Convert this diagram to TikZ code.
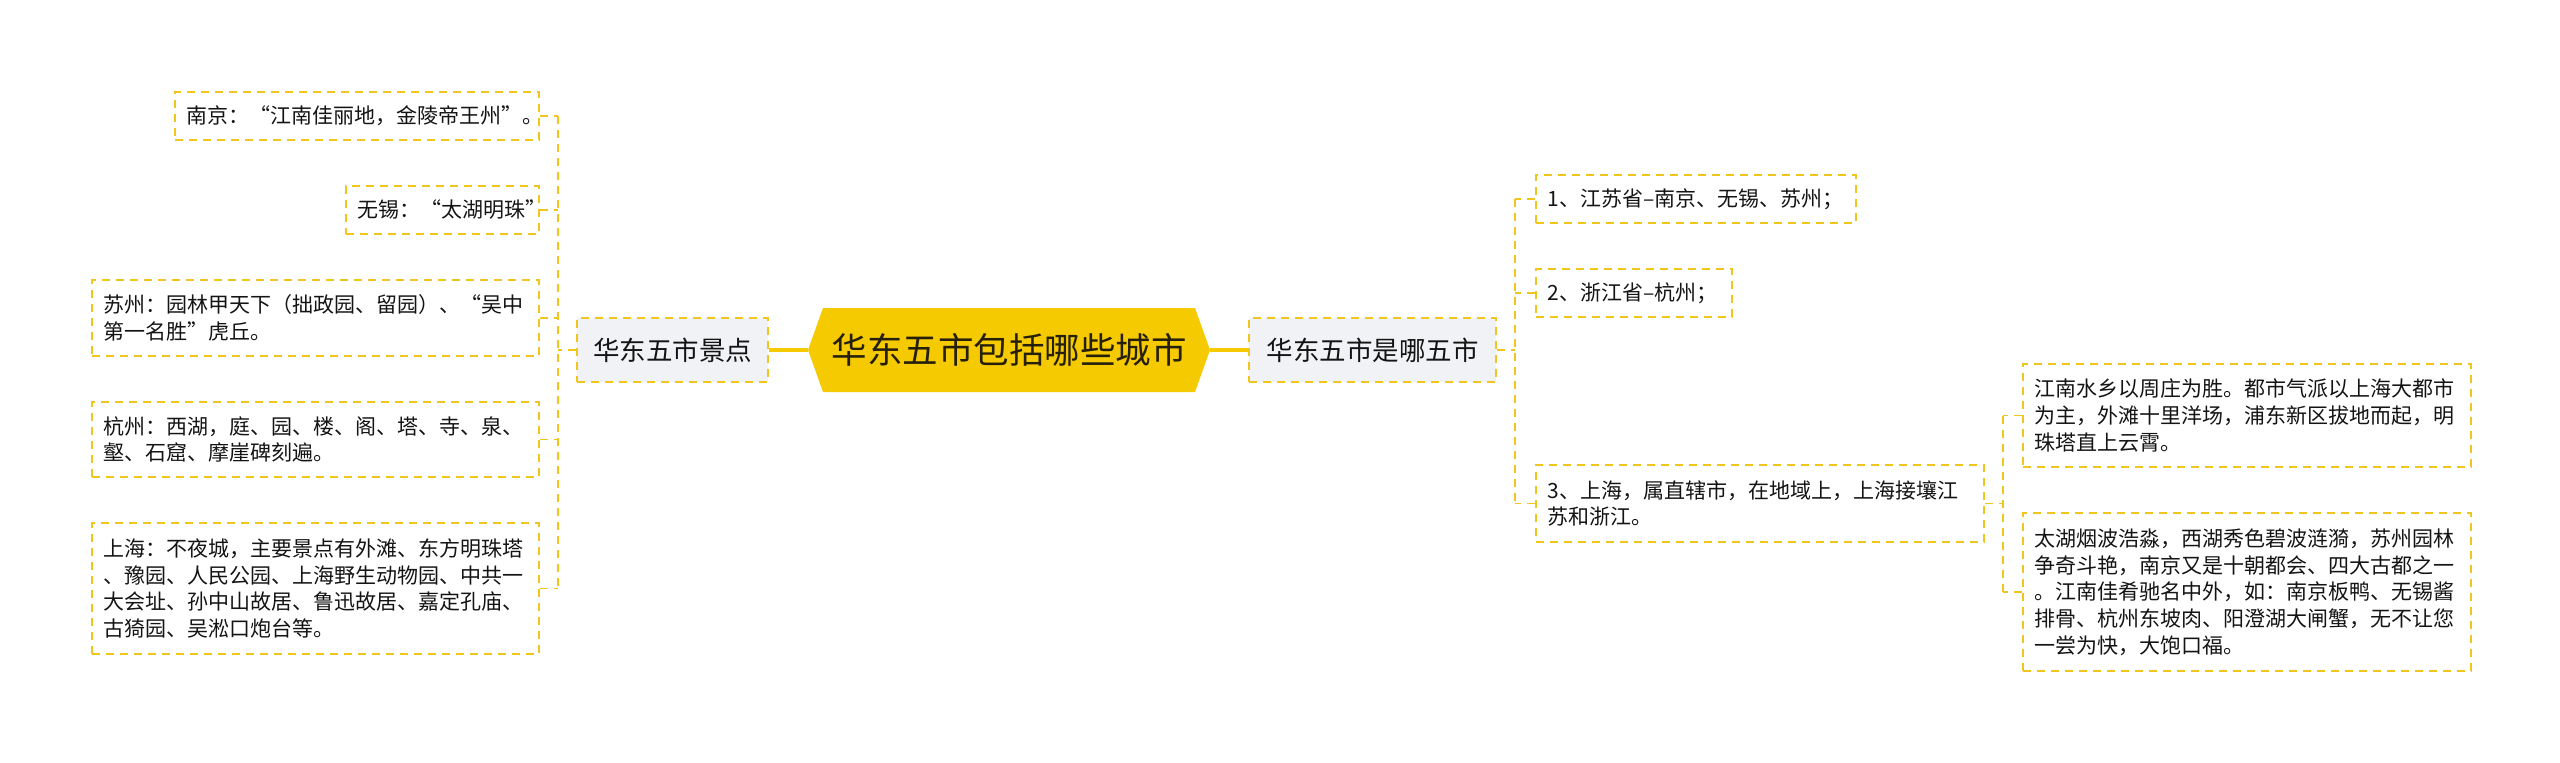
\documentclass[tikz,border=0pt]{standalone}
\usepackage{fontspec}
\setmainfont{Noto Sans CJK SC}
\definecolor{ylw}{RGB}{240,198,30}
\definecolor{gold}{RGB}{246,202,0}
\definecolor{pgray}{RGB}{241,242,245}
\definecolor{txt}{RGB}{20,20,20}
\tikzset{
  leaf/.style={draw=ylw, line width=1.8pt, dash pattern=on 8pt off 6pt, anchor=west,
    inner xsep=12pt, inner ysep=0pt, align=left, text=txt,
    font=\fontsize{21}{26.7}\selectfont},
  parentbox/.style={draw=ylw, fill=pgray, line width=1.8pt, dash pattern=on 8pt off 6pt,
    inner sep=0pt, minimum height=64pt, text=txt, font=\fontsize{26.5}{30}\selectfont},
  conn/.style={draw=ylw, line width=1.8pt, dash pattern=on 8pt off 6pt},
  mainconn/.style={draw=gold, line width=4pt},
}
\begin{document}
\begin{tikzpicture}[x=1pt,y=-1pt]
\useasboundingbox (0,0) rectangle (2560,763);
% root hexagon
\fill[gold] (808,350) -- (823,308) -- (1195,308) -- (1210,350) -- (1195,392) -- (823,392) -- cycle;
\node[minimum width=402pt, minimum height=84pt, inner sep=0pt, text={rgb,255:red,38;green,32;blue,10},
  font=\fontsize{35.5}{40}\selectfont] (root) at (1009,350) {华东五市包括哪些城市};

% parents
\node[parentbox, minimum width=191pt] (lp) at (672.5,350) {华东五市景点};
\node[parentbox, minimum width=247pt] (rp) at (1372.5,350) {华东五市是哪五市};

% left leaves
\node[leaf, text width=340pt, minimum height=48pt] (nj) at (174,116) {南京：“江南佳丽地，金陵帝王州”。};
\node[leaf, text width=169pt, minimum height=48pt] (wx) at (345,210) {无锡：“太湖明珠”};
\node[leaf, text width=423pt, minimum height=76pt] (sz) at (91,318) {苏州：园林甲天下（拙政园、留园）、“吴中\\第一名胜”虎丘。};
\node[leaf, text width=423pt, minimum height=75pt] (hz) at (91,439.5) {杭州：西湖，庭、园、楼、阁、塔、寺、泉、\\壑、石窟、摩崖碑刻遍。};
\node[leaf, text width=423pt, minimum height=131pt] (sh) at (91,588.5) {上海：不夜城，主要景点有外滩、东方明珠塔\\、豫园、人民公园、上海野生动物园、中共一\\大会址、孙中山故居、鲁迅故居、嘉定孔庙、\\古猗园、吴淞口炮台等。};

% right leaves
\node[leaf, text width=296pt, minimum height=48pt] (r1) at (1535,199) {1、江苏省–南京、无锡、苏州；};
\node[leaf, text width=172pt, minimum height=48pt] (r2) at (1535,293) {2、浙江省–杭州；};
\node[leaf, text width=424pt, minimum height=77pt] (r3) at (1535,503.5) {3、上海，属直辖市，在地域上，上海接壤江\\苏和浙江。};
\node[leaf, text width=424pt, minimum height=103pt] (ra) at (2022,415.5) {江南水乡以周庄为胜。都市气派以上海大都市\\为主，外滩十里洋场，浦东新区拔地而起，明\\珠塔直上云霄。};
\node[leaf, text width=424pt, minimum height=158pt] (rb) at (2022,592) {太湖烟波浩淼，西湖秀色碧波涟漪，苏州园林\\争奇斗艳，南京又是十朝都会、四大古都之一\\。江南佳肴驰名中外，如：南京板鸭、无锡酱\\排骨、杭州东坡肉、阳澄湖大闸蟹，无不让您\\一尝为快，大饱口福。};

% main connectors
\draw[mainconn] (root.west) -- (lp.east);
\draw[mainconn] (root.east) -- (rp.west);

% left bracket
\coordinate (ls) at (558,350);
\draw[conn] (lp.west) -- (ls);
\draw[conn] (nj.east -| ls) -- (sh.east -| ls);
\foreach \n in {nj,wx,sz,hz,sh} \draw[conn] (\n.east) -- (\n.east -| ls);

% right bracket
\coordinate (rs) at (1515,350);
\draw[conn] (rp.east) -- (rs);
\draw[conn] (r1.west -| rs) -- (r3.west -| rs);
\foreach \n in {r1,r2,r3} \draw[conn] (\n.west) -- (\n.west -| rs);

% sub bracket
\coordinate (ss) at (2003,503.5);
\draw[conn] (r3.east) -- (ss);
\draw[conn] (ra.west -| ss) -- (rb.west -| ss);
\foreach \n in {ra,rb} \draw[conn] (\n.west) -- (\n.west -| ss);
\end{tikzpicture}
\end{document}
